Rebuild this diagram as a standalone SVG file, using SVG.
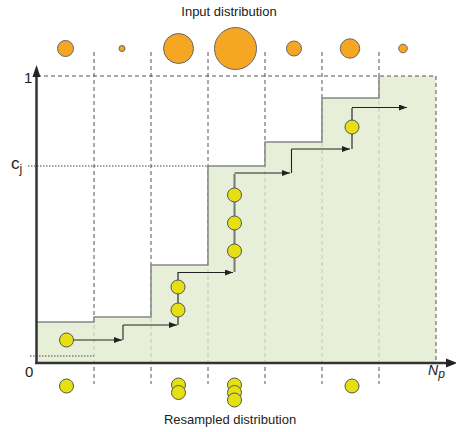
<svg xmlns="http://www.w3.org/2000/svg" width="456" height="432" viewBox="0 0 456 432">
<defs>
<style>
.lbl{font-family:"Liberation Sans",Arial,sans-serif;fill:#222}
.grid{stroke:#555;stroke-width:1;stroke-dasharray:4 3;fill:none}
.dot{stroke:#444;stroke-width:1;stroke-dasharray:1.5 1.5;fill:none}
.flow{stroke:#222;stroke-width:1.1;fill:none}
.link{stroke:#777;stroke-width:2;fill:none}
.in{fill:#f5a623;stroke:#666;stroke-width:1}
.out{fill:#e5e012;stroke:#555;stroke-width:1}
</style>
<marker id="ah" viewBox="0 0 8 6" refX="8" refY="3" markerWidth="8" markerHeight="6" markerUnits="userSpaceOnUse" orient="auto">
<path d="M0,0 L8,3 L0,6 Z" fill="#222"/>
</marker>
</defs>
<rect width="456" height="432" fill="#fff"/>

<g id="grid">
<line class="grid" x1="94" y1="52" x2="94" y2="384"/>
<line class="grid" x1="151" y1="52" x2="151" y2="384"/>
<line class="grid" x1="208" y1="52" x2="208" y2="384"/>
<line class="grid" x1="265" y1="52" x2="265" y2="384"/>
<line class="grid" x1="322" y1="52" x2="322" y2="384"/>
<line class="grid" x1="379" y1="52" x2="379" y2="384"/>
</g>

<g id="cdf">
<path d="M37,363 V322 H94 V317 H151 V265 H208 V166 H265 V142 H322 V98 H379 V76 H436 V363 Z" fill="rgb(224,235,206)" fill-opacity="0.78"/>
<path d="M37,322 H94 V317 H151 V265 H208 V166 H265 V142 H322 V98 H379 V76" fill="none" stroke="#888" stroke-width="1.5"/>
<line class="grid" x1="37" y1="76" x2="436" y2="76"/>
<line class="grid" x1="436" y1="76" x2="436" y2="363"/>
<line class="dot" x1="28" y1="166" x2="208" y2="166"/>
<line class="dot" x1="30" y1="356" x2="94" y2="356"/>
</g>

<g id="axes">
<line x1="36.5" y1="364" x2="36.5" y2="76" stroke="#333" stroke-width="2.5"/>
<path d="M36.5,65 L40.5,77 L32.5,77 Z" fill="#222"/>
<line x1="35" y1="363" x2="447" y2="363" stroke="#333" stroke-width="2.5"/>
<path d="M457,363 L446,358.5 L446,367.5 Z" fill="#222"/>
<text class="lbl" x="24" y="83" font-size="15">1</text>
<text class="lbl" x="11" y="169" font-size="17">c<tspan font-size="12" dy="4">j</tspan></text>
<text class="lbl" x="25" y="377" font-size="15">0</text>
<text class="lbl" x="428" y="375" font-size="14" font-style="italic">N<tspan font-size="12" dy="3">p</tspan></text>
</g>

<g id="connectors">
<line class="flow" x1="66" y1="340" x2="122" y2="340" marker-end="url(#ah)"/>
<path class="flow" d="M123,340 V325"/>
<line class="flow" x1="123" y1="325" x2="177" y2="325" marker-end="url(#ah)"/>
<path class="link" d="M178,325 V272"/>
<path class="flow" d="M178,272.5 H233" marker-end="url(#ah)"/>
<path class="link" d="M234.5,272 V174"/>
<path class="flow" d="M234.5,173 H290" marker-end="url(#ah)"/>
<path class="flow" d="M291.5,173 V149"/>
<path class="flow" d="M291.5,149 H350" marker-end="url(#ah)"/>
<path class="link" d="M352,149 V108"/>
<path class="flow" d="M352,107.5 H407" marker-end="url(#ah)"/>
</g>

<g id="input-distribution">
<text class="lbl" x="229" y="16" font-size="13" text-anchor="middle">Input distribution</text>
<circle class="in" cx="65.5" cy="48.5" r="8"/>
<circle class="in" cx="122" cy="48.5" r="3"/>
<circle class="in" cx="178.5" cy="48.5" r="15"/>
<circle class="in" cx="235.5" cy="48.5" r="21"/>
<circle class="in" cx="294" cy="48.5" r="7.5"/>
<circle class="in" cx="350" cy="48.5" r="9.7"/>
<circle class="in" cx="403" cy="48.5" r="4.3"/>
</g>

<g id="samples">
<circle class="out" cx="66.5" cy="340" r="7"/>
<circle class="out" cx="178" cy="310" r="7"/>
<circle class="out" cx="178" cy="287" r="7"/>
<circle class="out" cx="234.5" cy="251" r="7"/>
<circle class="out" cx="234.5" cy="223" r="7"/>
<circle class="out" cx="234.5" cy="195" r="7"/>
<circle class="out" cx="352" cy="127" r="7"/>
</g>

<g id="resampled-distribution">
<circle class="out" cx="66.5" cy="386" r="7"/>
<circle class="out" cx="178.5" cy="385" r="7"/>
<circle class="out" cx="178.5" cy="392.5" r="7"/>
<circle class="out" cx="234.5" cy="385" r="7"/>
<circle class="out" cx="234.5" cy="392.5" r="7"/>
<circle class="out" cx="234.5" cy="400" r="7"/>
<circle class="out" cx="352" cy="386" r="7"/>
<text class="lbl" x="230" y="424" font-size="13" text-anchor="middle">Resampled distribution</text>
</g>
</svg>
